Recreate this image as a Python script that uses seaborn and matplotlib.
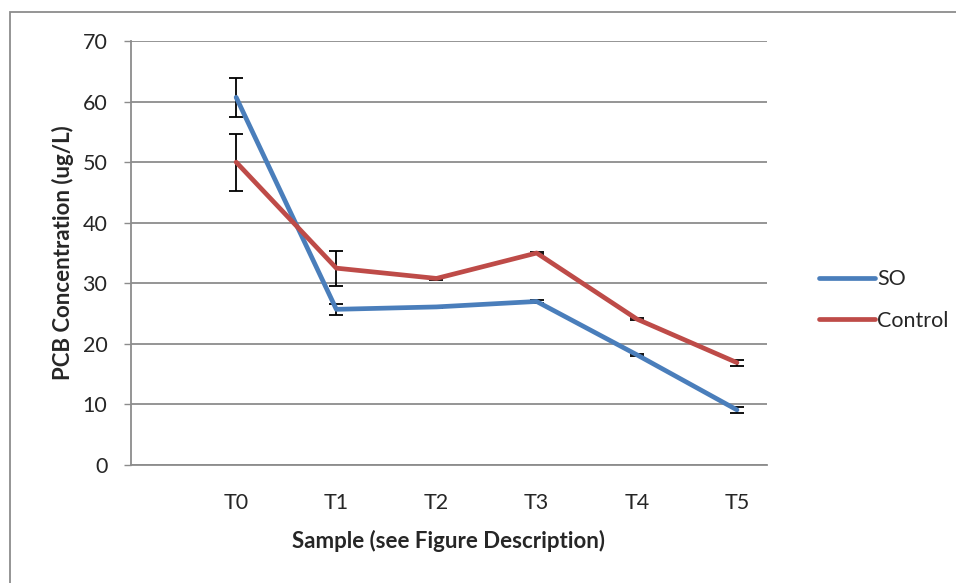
import numpy as np
import pandas as pd
import seaborn as sns
import matplotlib.pyplot as plt
from matplotlib.patches import Rectangle

samples = ['T0', 'T1', 'T2', 'T3', 'T4', 'T5']
so_values = [60.7, 25.7, 26.1, 27.0, 18.2, 9.1]
so_errors = [3.2, 0.9, 0.2, 0.2, 0.2, 0.5]
control_values = [50.0, 32.5, 30.8, 35.0, 24.1, 16.9]
control_errors = [4.7, 2.9, 0.2, 0.2, 0.2, 0.5]

blue = '#4A7EBB'
red = '#BE4B48'
grid_gray = '#8C8C8C'

df = pd.DataFrame({
    'pos': list(range(len(samples))) * 2,
    'value': so_values + control_values,
    'series': ['SO'] * len(samples) + ['Control'] * len(samples),
})

sns.set_style('white')
plt.rcParams['font.family'] = ['Lato', 'DejaVu Sans']

fig = plt.figure(figsize=(9.56, 5.83), dpi=100)
ax = fig.add_axes([131 / 956, 1 - 465 / 583, (767 - 131) / 956, (465 - 41) / 583])

x = np.arange(len(samples))
ax.errorbar(x, so_values, yerr=so_errors, fmt='none', ecolor='black',
            elinewidth=1.3, capsize=5, capthick=1.3, zorder=2)
ax.errorbar(x, control_values, yerr=control_errors, fmt='none', ecolor='black',
            elinewidth=1.3, capsize=5, capthick=1.3, zorder=2)

sns.lineplot(data=df, x='pos', y='value', hue='series', palette={'SO': blue, 'Control': red},
             linewidth=3.4, ax=ax, zorder=3, legend=False)

ax.set_xlim(-1.05, 5.3)
ax.set_ylim(0, 70)
ax.set_yticks(range(0, 71, 10))
ax.yaxis.grid(True, color=grid_gray, linewidth=1.3)
ax.xaxis.grid(False)
ax.set_axisbelow(True)

ax.set_xticks(x)
ax.set_xticklabels(samples)
ax.set_xticks(np.arange(-0.5, 5, 1), minor=True)
ax.tick_params(axis='x', which='major', length=0, labelsize=15.5, pad=20)
ax.tick_params(axis='x', which='minor', length=7, width=1, color=grid_gray, direction='out')
ax.tick_params(axis='y', length=5, width=1, color=grid_gray, labelsize=15.5, pad=12, left=True)

for side in ['top', 'right']:
    ax.spines[side].set_visible(False)
for side in ['left', 'bottom']:
    ax.spines[side].set_color(grid_gray)
    ax.spines[side].set_linewidth(1.3)

ax.set_xlabel('Sample (see Figure Description)', fontsize=16, fontweight='bold', labelpad=12)
ax.set_ylabel('PCB Concentration (ug/L)', fontsize=16, fontweight='bold', labelpad=6)

handles = [plt.Line2D([], [], color=blue, linewidth=3.4, solid_capstyle='round'),
           plt.Line2D([], [], color=red, linewidth=3.4, solid_capstyle='round')]
fig.legend(handles, ['SO', 'Control'], loc='center left', bbox_to_anchor=(800 / 956, 1 - 300 / 583),
           frameon=False, fontsize=15.5, handlelength=2.6, handletextpad=0.1, labelspacing=1.0)

fig.patches.append(Rectangle((10 / 956, -0.1), 1.2, 1 - 12 / 583 + 0.1, transform=fig.transFigure,
                             fill=False, edgecolor=grid_gray, linewidth=1.3))

fig.savefig('out.png', dpi=100)
